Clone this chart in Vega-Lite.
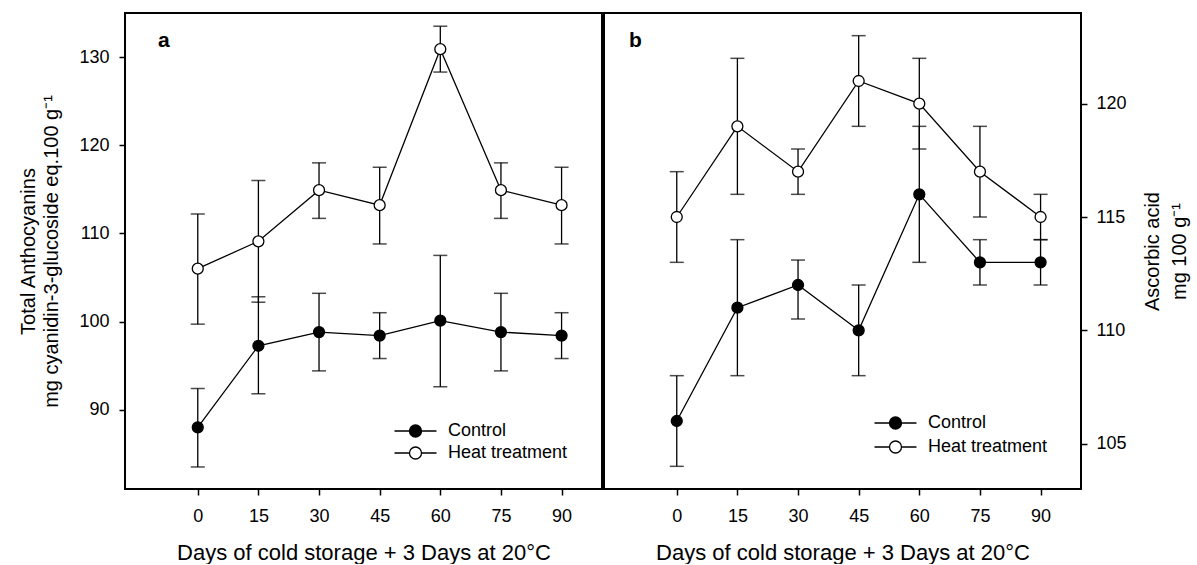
{
  "$schema": "https://vega.github.io/schema/vega-lite/v6.json",
  "padding": {"left": 17, "top": 12, "right": 5, "bottom": 0},
  "config": {
    "font": "Liberation Sans",
    "view": {"stroke": "black", "strokeWidth": 2},
    "axis": {"grid": false, "domain": false, "tickColor": "black", "tickSize": 6, "tickWidth": 1.5,
      "labelColor": "black", "labelFontSize": 18, "labelFont": "Liberation Sans",
      "titleFontSize": 20, "titleFontWeight": "normal", "titleColor": "black", "titleFont": "Liberation Sans", "titleLineHeight": 23},
    "legend": {"labelFontSize": 18, "labelFont": "Liberation Sans", "labelColor": "black", "padding": 0, "rowPadding": 4, "symbolStrokeColor": "black", "symbolStrokeWidth": 1.3},
    "title": {"font": "Liberation Sans", "fontWeight": "bold", "fontSize": 21, "color": "black", "anchor": "start", "offset": 0, "frame": "group"}
  },
  "datasets": {
    "anth": [
      {"day": 0, "group": "Control", "mean": 88.0, "lo": 83.5, "hi": 92.4},
      {"day": 15, "group": "Control", "mean": 97.25, "lo": 91.8, "hi": 102.8},
      {"day": 30, "group": "Control", "mean": 98.8, "lo": 94.4, "hi": 103.2},
      {"day": 45, "group": "Control", "mean": 98.4, "lo": 95.8, "hi": 101.0},
      {"day": 60, "group": "Control", "mean": 100.1, "lo": 92.6, "hi": 107.5},
      {"day": 75, "group": "Control", "mean": 98.8, "lo": 94.4, "hi": 103.2},
      {"day": 90, "group": "Control", "mean": 98.4, "lo": 95.8, "hi": 101.0},
      {"day": 0, "group": "Heat treatment", "mean": 106.0, "lo": 99.7, "hi": 112.2},
      {"day": 15, "group": "Heat treatment", "mean": 109.1, "lo": 102.2, "hi": 116.0},
      {"day": 30, "group": "Heat treatment", "mean": 114.9, "lo": 111.7, "hi": 118.0},
      {"day": 45, "group": "Heat treatment", "mean": 113.2, "lo": 108.8, "hi": 117.5},
      {"day": 60, "group": "Heat treatment", "mean": 130.9, "lo": 128.3, "hi": 133.5},
      {"day": 75, "group": "Heat treatment", "mean": 114.9, "lo": 111.7, "hi": 118.0},
      {"day": 90, "group": "Heat treatment", "mean": 113.2, "lo": 108.8, "hi": 117.5}
    ],
    "asc": [
      {"day": 0, "group": "Control", "mean": 106, "lo": 104, "hi": 108},
      {"day": 15, "group": "Control", "mean": 111, "lo": 108, "hi": 114},
      {"day": 30, "group": "Control", "mean": 112, "lo": 110.5, "hi": 113.1},
      {"day": 45, "group": "Control", "mean": 110, "lo": 108, "hi": 112},
      {"day": 60, "group": "Control", "mean": 116, "lo": 113, "hi": 119},
      {"day": 75, "group": "Control", "mean": 113, "lo": 112, "hi": 114},
      {"day": 90, "group": "Control", "mean": 113, "lo": 112, "hi": 114},
      {"day": 0, "group": "Heat treatment", "mean": 115, "lo": 113, "hi": 117},
      {"day": 15, "group": "Heat treatment", "mean": 119, "lo": 116, "hi": 122},
      {"day": 30, "group": "Heat treatment", "mean": 117, "lo": 116, "hi": 118},
      {"day": 45, "group": "Heat treatment", "mean": 121, "lo": 119, "hi": 123},
      {"day": 60, "group": "Heat treatment", "mean": 120, "lo": 118, "hi": 122},
      {"day": 75, "group": "Heat treatment", "mean": 117, "lo": 115, "hi": 119},
      {"day": 90, "group": "Heat treatment", "mean": 115, "lo": 114, "hi": 116}
    ]
  },
  "spacing": 0,
  "resolve": {"scale": {"x": "independent", "y": "independent", "fill": "independent"}, "legend": {"fill": "independent"}},
  "hconcat": [
    {
      "width": 477, "height": 476,
      "data": {"name": "anth"},
      "title": {"text": "a", "dx": 33, "dy": 42},
      "encoding": {
        "x": {"field": "day", "type": "quantitative", "scale": {"domain": [-18, 100], "nice": false, "zero": false},
          "axis": {"values": [0, 15, 30, 45, 60, 75, 90], "labelPadding": 12, "titlePadding": 17, "titleFontSize": 22, "title": "Days of cold storage + 3 Days at 20°C"}}
      },
      "layer": [
        {"mark": {"type": "rule", "color": "black", "strokeWidth": 1.3},
          "encoding": {"y": {"field": "lo", "type": "quantitative", "scale": {"domain": [81, 135], "nice": false, "zero": false},
            "axis": {"values": [90, 100, 110, 120, 130], "labelPadding": 10, "titlePadding": 17, "title": ["Total Anthocyanins", "mg cyanidin-3-glucoside eq.100 g⁻¹"]}},
            "y2": {"field": "hi"}}},
        {"mark": {"type": "tick", "orient": "horizontal", "color": "black", "size": 14, "thickness": 1.5}, "encoding": {"y": {"field": "lo", "type": "quantitative"}}},
        {"mark": {"type": "tick", "orient": "horizontal", "color": "black", "size": 14, "thickness": 1.5}, "encoding": {"y": {"field": "hi", "type": "quantitative"}}},
        {"mark": {"type": "line", "color": "black", "strokeWidth": 1.3},
          "encoding": {"y": {"field": "mean", "type": "quantitative"}, "detail": {"field": "group"}}},
        {"mark": {"type": "point", "filled": true, "stroke": "black", "strokeWidth": 1.3, "size": 120, "opacity": 1},
          "encoding": {"y": {"field": "mean", "type": "quantitative"},
            "fill": {"field": "group", "type": "nominal", "scale": {"domain": ["Control", "Heat treatment"], "range": ["black", "white"]},
              "legend": {"title": null, "orient": "none", "legendX": 281.5, "legendY": 409, "symbolType": "M-3.5,0L-1,0M1,0L3.5,0M-1,0A1,1,0,1,1,1,0A1,1,0,1,1,-1,0Z", "symbolSize": 144, "labelOffset": 23.5,
                "encode": {"symbols": {"update": {"stroke": {"value": "black"}, "strokeWidth": {"value": 1.3}}}}}}}}
      ]
    },
    {
      "width": 477, "height": 476,
      "data": {"name": "asc"},
      "title": {"text": "b", "dx": 25, "dy": 42},
      "encoding": {
        "x": {"field": "day", "type": "quantitative", "scale": {"domain": [-18, 100], "nice": false, "zero": false},
          "axis": {"values": [0, 15, 30, 45, 60, 75, 90], "labelPadding": 12, "titlePadding": 17, "titleFontSize": 22, "title": "Days of cold storage + 3 Days at 20°C"}}
      },
      "layer": [
        {"mark": {"type": "rule", "color": "black", "strokeWidth": 1.3},
          "encoding": {"y": {"field": "lo", "type": "quantitative", "scale": {"domain": [103, 124], "nice": false, "zero": false},
            "axis": {"orient": "right", "values": [105, 110, 115, 120], "labelPadding": 9, "titlePadding": 9, "titleAngle": 270, "titleLineHeight": 27, "title": ["Ascorbic acid", "mg 100 g⁻¹"]}},
            "y2": {"field": "hi"}}},
        {"mark": {"type": "tick", "orient": "horizontal", "color": "black", "size": 14, "thickness": 1.5}, "encoding": {"y": {"field": "lo", "type": "quantitative"}}},
        {"mark": {"type": "tick", "orient": "horizontal", "color": "black", "size": 14, "thickness": 1.5}, "encoding": {"y": {"field": "hi", "type": "quantitative"}}},
        {"mark": {"type": "line", "color": "black", "strokeWidth": 1.3},
          "encoding": {"y": {"field": "mean", "type": "quantitative"}, "detail": {"field": "group"}}},
        {"mark": {"type": "point", "filled": true, "stroke": "black", "strokeWidth": 1.3, "size": 120, "opacity": 1},
          "encoding": {"y": {"field": "mean", "type": "quantitative"},
            "fill": {"field": "group", "type": "nominal", "scale": {"domain": ["Control", "Heat treatment"], "range": ["black", "white"]},
              "legend": {"title": null, "orient": "none", "legendX": 282.5, "legendY": 401, "rowPadding": 6, "symbolType": "M-3.5,0L-1,0M1,0L3.5,0M-1,0A1,1,0,1,1,1,0A1,1,0,1,1,-1,0Z", "symbolSize": 144, "labelOffset": 23.5,
                "encode": {"symbols": {"update": {"stroke": {"value": "black"}, "strokeWidth": {"value": 1.3}}}}}}}}
      ]
    }
  ]
}
